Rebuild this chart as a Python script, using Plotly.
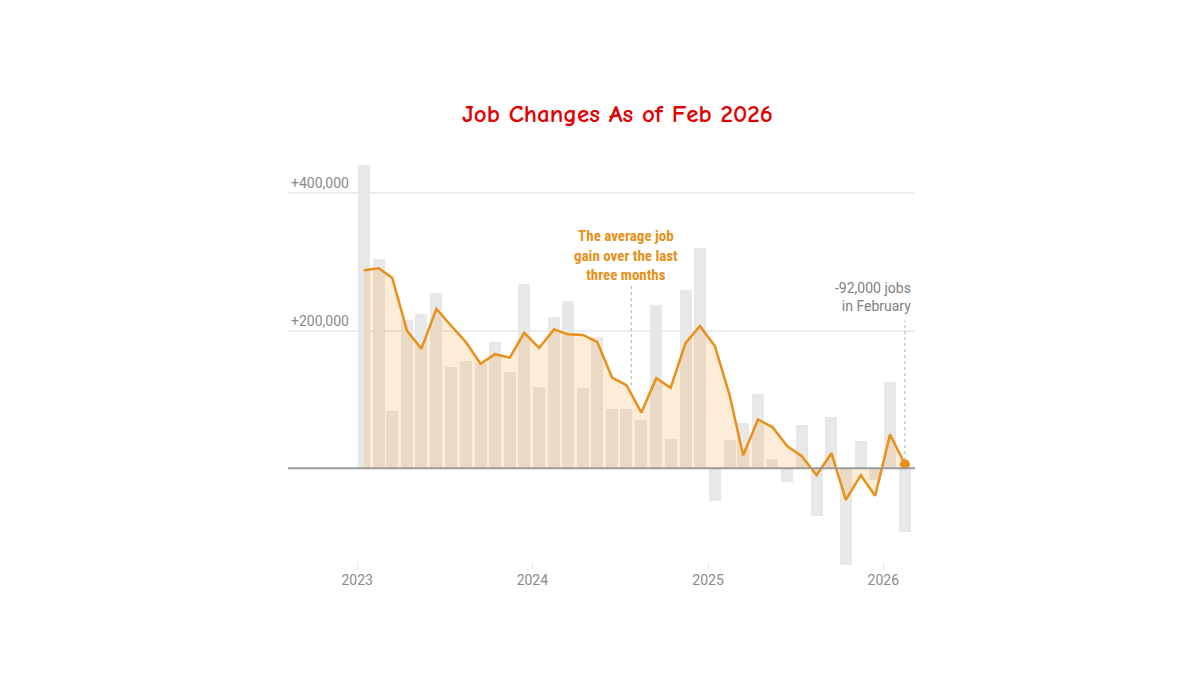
import plotly.graph_objects as go
import pandas as pd

# Months (Jan 2023 - Feb 2026)
months = pd.date_range("2023-01-01", "2026-02-01", freq="MS")
month_mid = months + pd.Timedelta(days=14)

# Monthly job change (thousands)
job_change = [441, 304, 83, 215, 225, 255, 147, 156, 153, 184, 140, 268,
              118, 220, 244, 117, 191, 86, 87, 70, 238, 43, 259, 321,
              -48, 41, 66, 108, 13, -20, 63, -70, 75, -141, 40, -17,
              125, -92]

# Average job gain over the last three months (thousands)
avg_3m = [288, 291, 277, 200, 174, 232, 208, 184, 152, 166, 161, 197,
          175, 202, 195, 194, 184, 132, 121, 81, 131, 117, 182, 207,
          178, 106, 19, 71, 60, 32, 18, -10, 22, -46, -10, -40,
          49, 6]

year_ticks = ["2023-01-01", "2024-01-01", "2025-01-01", "2026-01-01"]
year_labels = ["2023", "2024", "2025", "2026"]
y_ticks = [200000, 400000]
y_labels = ["+200,000", "+400,000"]

jobs = [v * 1000 for v in job_change]
avg = [v * 1000 for v in avg_3m]

ORANGE = "#e8901a"
fig = go.Figure()
fig.add_trace(go.Bar(
    x=month_mid, y=jobs,
    marker=dict(color="#e8e8e8", line=dict(width=0)),
    width=25 * 86400000,
    hoverinfo="x+y", showlegend=False,
))
fig.add_trace(go.Scatter(
    x=month_mid, y=avg, mode="lines",
    line=dict(color=ORANGE, width=2.5),
    fill="tozeroy", fillcolor="rgba(240,150,40,0.18)",
    showlegend=False,
))
fig.add_trace(go.Scatter(
    x=[month_mid[-1]], y=[avg[-1]], mode="markers",
    marker=dict(color=ORANGE, size=10),
    showlegend=False,
))

axis_font = dict(family="Roboto, Liberation Sans, sans-serif", size=14, color="#8a8a8a")

fig.update_layout(
    width=1200, height=675,
    margin=dict(l=288, r=285, t=155, b=105),
    paper_bgcolor="white", plot_bgcolor="white",
    bargap=0,
    xaxis=dict(
        type="date", range=["2022-08-10", "2026-03-08"],
        tickvals=year_ticks, ticktext=year_labels,
        tickfont=axis_font, showgrid=False, zeroline=False, showline=False,
        ticks="inside", ticklen=8, tickcolor="#e6e6e6",
    ),
    yaxis=dict(
        range=[-147900, 455700],
        tickvals=y_ticks, ticktext=y_labels,
        ticklabelposition="inside top",
        tickfont=axis_font,
        showgrid=True, gridcolor="#ececec", gridwidth=1.5,
        zeroline=False, showline=False,
    ),
    shapes=[
        dict(type="line", xref="paper", x0=0, x1=1, yref="y", y0=0, y1=0,
             line=dict(color="#9a9a9a", width=2), layer="above"),
        dict(type="line", xref="x", x0="2024-07-25", x1="2024-07-25",
             yref="y", y0=121000, y1=266000,
             line=dict(color="#b0b0b0", width=1, dash="dot")),
        dict(type="line", xref="x", x0=month_mid[-1], x1=month_mid[-1],
             yref="y", y0=12000, y1=215000,
             line=dict(color="#b0b0b0", width=1, dash="dot")),
    ],
    annotations=[
        dict(text="<b>Job Changes As of Feb 2026</b>", xref="paper", yref="paper",
             x=0.525, y=1.101, xanchor="center", yanchor="middle", showarrow=False,
             font=dict(family="Comic Sans MS, Comic Neue, DejaVu Sans, sans-serif",
                       size=25, color="#e00000")),
        dict(text="<b>The average job<br>gain over the last<br>three months</b>",
             xref="x", yref="y", x="2024-07-15", y=265500,
             xanchor="center", yanchor="bottom", showarrow=False, align="center",
             font=dict(family="Liberation Sans Narrow, Roboto Condensed, Roboto, sans-serif",
                       size=15, color=ORANGE)),
        dict(text="-92,000 jobs<br>in February",
             xref="x", yref="y", x="2026-03-03", y=221000,
             xanchor="right", yanchor="bottom", showarrow=False, align="right",
             font=dict(family="Roboto, Liberation Sans, sans-serif",
                       size=14, color="#808080")),
    ],
)

fig.write_html("out.html")
